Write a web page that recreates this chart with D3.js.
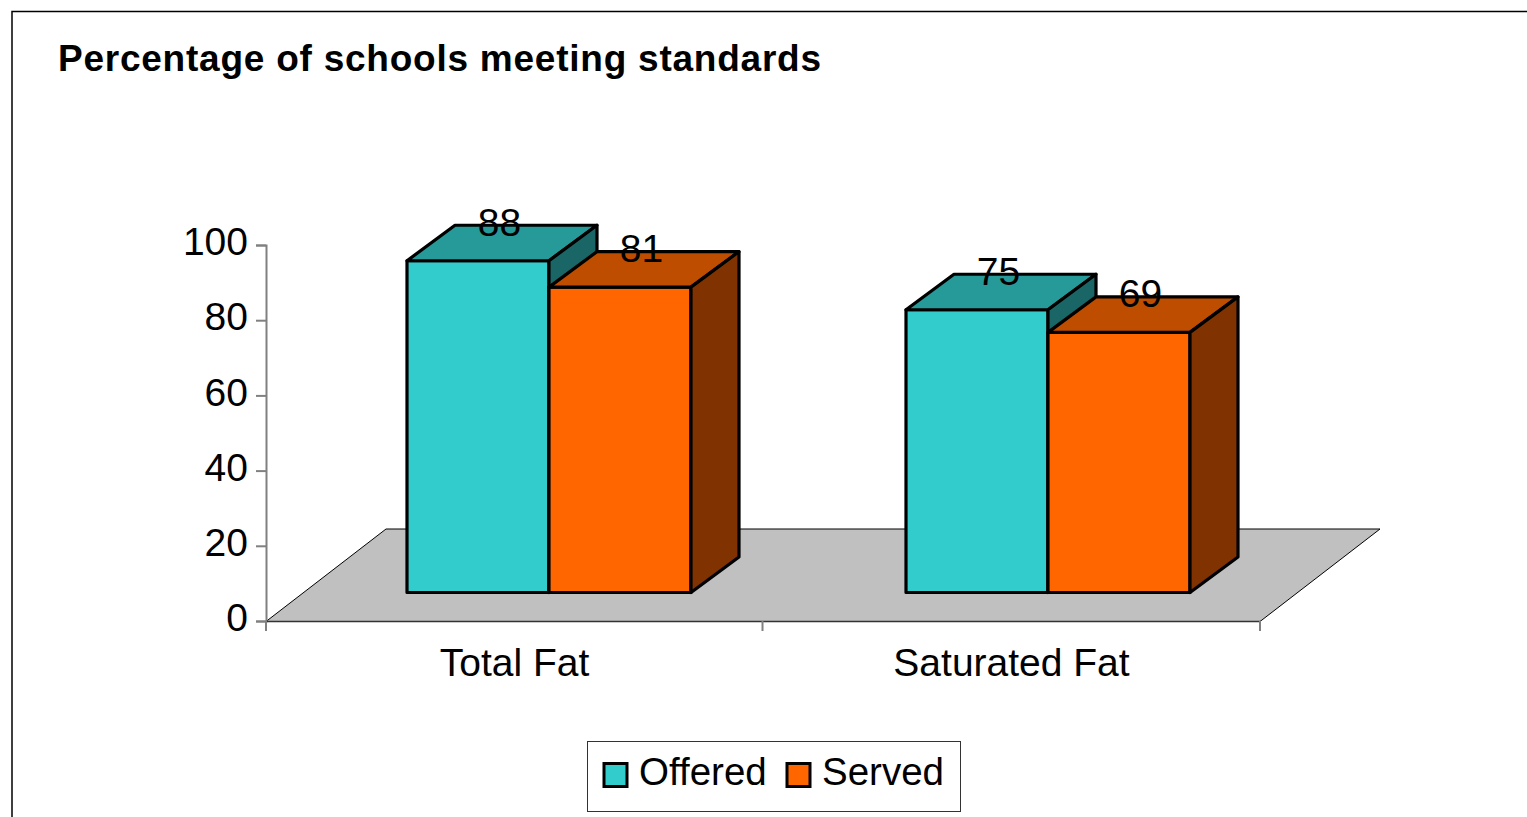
<!DOCTYPE html>
<html>
<head>
<meta charset="utf-8">
<title>Percentage of schools meeting standards</title>
<script src="https://cdn.jsdelivr.net/npm/d3@7"></script>
<style>
  html, body { margin: 0; padding: 0; background: #fff; overflow: hidden; }
  svg { display: block; font-family: "Liberation Sans", Arial, sans-serif; }
</style>
</head>
<body>
<div id="chart"></div>
<script>
// chart data
var categories = ["Total Fat", "Saturated Fat"];
var seriesNames = ["Offered", "Served"];
var offered = [88, 75];
var served = [81, 69];
var yTicks = [0, 20, 40, 60, 80, 100];

var seriesValues = [offered, served];
var frontColors = ["#33cccc", "#ff6600"];
var topColors = ["#269999", "#bf4d00"];
var sideColors = ["#1a6666", "#803300"];

var width = 1527, height = 817;

// depth of the 3d bars, and of the floor
var depthX = 48, depthY = 35.5;
var floorX = 120, floorY = 92.5;
var baseY = 592.5; // front edge of the bars, up on the floor

var svg = d3.select("#chart")
  .append("svg")
    .attr("width", width)
    .attr("height", height);

// outer frame runs off the page on the right and bottom
svg.append("path")
  .attr("d", "M12," + height + "V11.5H" + width)
  .attr("fill", "none")
  .attr("stroke", "#000")
  .attr("stroke-width", 1.5);

svg.append("text")
  .attr("x", 58)
  .attr("y", 71)
  .attr("font-size", 37)
  .attr("font-weight", "bold")
  .attr("textLength", 763)
  .text("Percentage of schools meeting standards");

// scales
var y = d3.scaleLinear().domain([0, 100]).range([621, 245]);
var barLength = d3.scaleLinear().domain([0, 100]).range([0, 377]);
var x = d3.scaleBand().domain(categories).range([266, 1260]);
var xGroup = d3.scalePoint().domain(categories).range([549, 1048]);
var xSeries = d3.scaleBand().domain(seriesNames).range([-142, 142]);

// floor
svg.append("path")
  .attr("d", "M266,621.5L" + (266 + floorX) + "," + (621.5 - floorY)
    + "H" + (1260 + floorX) + "L1260,621.5Z")
  .attr("fill", "#c0c0c0")
  .attr("stroke", "#000")
  .attr("stroke-width", 1);

// Y axis
var yAxis = svg.append("g")
  .attr("transform", "translate(266,0)")
  .call(d3.axisLeft(y).tickValues(yTicks).tickSize(10).tickPadding(8));
yAxis.selectAll("path, line").attr("stroke", "#808080").attr("stroke-width", 2);
yAxis.selectAll("text")
  .attr("font-size", 39)
  .attr("font-family", "Liberation Sans")
  .attr("fill", "#000")
  .attr("dy", "0.25em");

// X axis, the ticks sit between the categories
var xAxis = svg.append("g")
  .attr("transform", "translate(0,621)")
  .call(d3.axisBottom(x).tickSize(0).tickPadding(27));
xAxis.select("path").attr("stroke", "#333").attr("stroke-width", 1.5);
xAxis.selectAll("text")
  .attr("font-size", 39)
  .attr("font-family", "Liberation Sans")
  .attr("fill", "#000");
xAxis.selectAll("line.sep")
  .data([x.range()[0], x(categories[1]) - 0.5, x.range()[1]])
  .enter()
  .append("line")
    .attr("class", "sep")
    .attr("x1", d => d)
    .attr("x2", d => d)
    .attr("y1", 0)
    .attr("y2", 10)
    .attr("stroke", "#808080")
    .attr("stroke-width", 2);

// bars
var bars = [];
categories.forEach(function(cat, i) {
  seriesNames.forEach(function(name, s) {
    bars.push({cat: cat, name: name, s: s, value: seriesValues[s][i]});
  });
});

var barW = xSeries.bandwidth();
var barG = svg.append("g")
  .selectAll("g")
  .data(bars)
  .enter()
  .append("g")
    .attr("transform", d => "translate(" + (xGroup(d.cat) + xSeries(d.name)) + ",0)")
    .attr("stroke", "#000")
    .attr("stroke-width", 3.2)
    .attr("stroke-linejoin", "round");

barG.append("rect")
  .attr("x", 0)
  .attr("y", d => baseY - barLength(d.value))
  .attr("width", barW)
  .attr("height", d => barLength(d.value))
  .attr("fill", d => frontColors[d.s]);

// top face
barG.append("path")
  .attr("d", function(d) {
    var t = baseY - barLength(d.value);
    return "M0," + t + "L" + depthX + "," + (t - depthY) + "H" + (barW + depthX)
      + "L" + barW + "," + t + "Z";
  })
  .attr("fill", d => topColors[d.s]);

// side face
barG.append("path")
  .attr("d", function(d) {
    var t = baseY - barLength(d.value);
    return "M" + barW + "," + t + "L" + (barW + depthX) + "," + (t - depthY)
      + "V" + (baseY - depthY) + "L" + barW + "," + baseY + "Z";
  })
  .attr("fill", d => sideColors[d.s]);

// value labels go on top of the bars
svg.append("g")
  .selectAll("text")
  .data(bars)
  .enter()
  .append("text")
    .attr("x", d => xGroup(d.cat) + xSeries(d.name) + barW / 2 + 21.5)
    .attr("y", d => baseY - barLength(d.value) - 25)
    .attr("text-anchor", "middle")
    .attr("font-size", 39)
    .text(d => d.value);

// legend
var legend = svg.append("g");
legend.append("rect")
  .attr("x", 587.5)
  .attr("y", 741.5)
  .attr("width", 373)
  .attr("height", 70)
  .attr("fill", "#fff")
  .attr("stroke", "#333")
  .attr("stroke-width", 1);

var legendSwatchX = [604, 787];
var legendItem = legend.selectAll("g")
  .data(seriesNames)
  .enter()
  .append("g")
    .attr("transform", (d, i) => "translate(" + legendSwatchX[i] + ",0)");

legendItem.append("rect")
  .attr("x", 0)
  .attr("y", 763.5)
  .attr("width", 23)
  .attr("height", 23)
  .attr("fill", (d, i) => frontColors[i])
  .attr("stroke", "#000")
  .attr("stroke-width", 3);

legendItem.append("text")
  .attr("x", 35)
  .attr("y", 785)
  .attr("font-size", 38.5)
  .text(d => d);
</script>
</body>
</html>
